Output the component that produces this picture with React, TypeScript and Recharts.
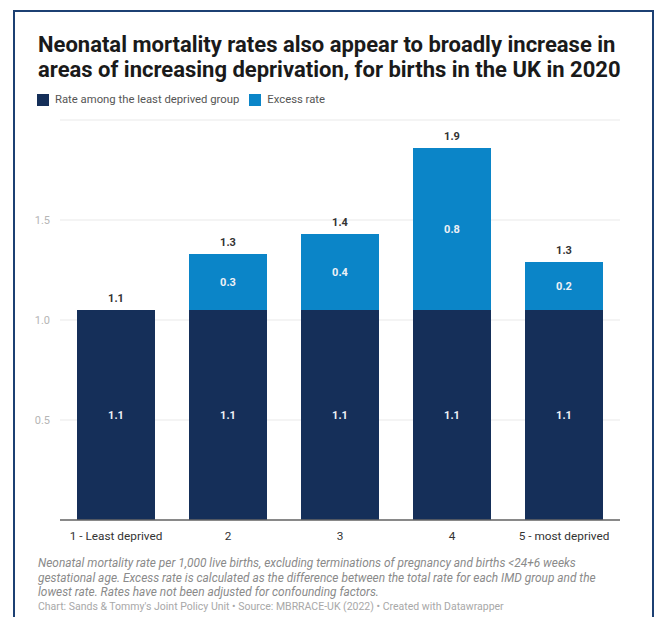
import { Bar, BarChart, CartesianGrid, LabelList, XAxis, YAxis } from 'recharts'

const groups = ['1 - Least deprived', '2', '3', '4', '5 - most deprived']
const baseRate = [1.05, 1.05, 1.05, 1.05, 1.05]
const excessRate = [0, 0.28, 0.38, 0.81, 0.24]
const yTicks = [0.5, 1.0, 1.5]

const NAVY = '#152f59'
const BLUE = '#0b85c8'
const FONT = 'Roboto, "Noto Sans", Arial, sans-serif'

const data = groups.map((group, i) => ({
  group,
  base: baseRate[i],
  excess: excessRate[i],
  total: baseRate[i] + excessRate[i],
}))

const fmt = (v: number) => v.toFixed(1)

// white value label centred inside a segment, skipped for empty segments
function InnerLabel(props: any) {
  const { x, y, width, height, value } = props
  if (!value) return null
  return (
    <text
      x={x + width / 2}
      y={y + height / 2}
      dy={4}
      textAnchor="middle"
      fill="#eef1f6"
      fontSize={11}
      fontWeight={700}
      fontFamily={FONT}
    >
      {fmt(value)}
    </text>
  )
}

function totalText(x: number, y: number, width: number, value: number) {
  return (
    <text
      x={x + width / 2}
      y={y - 8}
      textAnchor="middle"
      fill="#333"
      fontSize={11}
      fontWeight={700}
      fontFamily={FONT}
    >
      {fmt(value)}
    </text>
  )
}

// total above the stack; the excess segment carries it unless it is empty
function TotalOnExcess(props: any) {
  const { x, y, width, height, value } = props
  if (!height) return null
  return totalText(x, y, width, value)
}

function TotalOnBase(props: any) {
  const { x, y, width, value, index } = props
  if (excessRate[index]) return null
  return totalText(x, y, width, value)
}

function LegendItem({ color, label }: { color: string; label: string }) {
  return (
    <span style={{ display: 'inline-flex', alignItems: 'center', marginRight: 10 }}>
      <span style={{ width: 12, height: 12, background: color, marginRight: 6 }} />
      {label}
    </span>
  )
}

export default function App() {
  return (
    <div
      style={{
        position: 'absolute',
        left: 0,
        top: 0,
        width: 655,
        height: 617,
        overflow: 'hidden',
        background: '#fff',
        fontFamily: FONT,
      }}
    >
      <div
        style={{
          position: 'absolute',
          left: 13,
          top: 10,
          width: 637,
          height: 620,
          border: '2px solid #1c4073',
        }}
      />
      <div
        style={{
          position: 'absolute',
          left: 38,
          top: 33,
          fontSize: 22,
          fontWeight: 700,
          lineHeight: '24.5px',
          color: '#1a1a1a',
          whiteSpace: 'nowrap',
        }}
      >
        Neonatal mortality rates also appear to broadly increase in
        <br />
        areas of increasing deprivation, for births in the UK in 2020
      </div>
      <div
        style={{
          position: 'absolute',
          left: 37,
          top: 93,
          fontSize: 11.3,
          color: '#555',
          display: 'flex',
        }}
      >
        <LegendItem color={NAVY} label="Rate among the least deprived group" />
        <LegendItem color={BLUE} label="Excess rate" />
      </div>

      <div style={{ position: 'absolute', left: 0, top: 100 }}>
        <BarChart
          width={655}
          height={450}
          data={data}
          margin={{ top: 20, right: 35, left: 20, bottom: 0 }}
        >
          <CartesianGrid vertical={false} stroke="#e9e9e9" />
          <XAxis
            dataKey="group"
            axisLine={{ stroke: '#666', strokeWidth: 1.5 }}
            tickLine={false}
            height={30}
            tickMargin={6}
            tick={{ fill: '#333', fontSize: 11.8, fontFamily: FONT }}
          />
          <YAxis
            width={40}
            domain={[0, 2]}
            ticks={yTicks}
            tickFormatter={fmt}
            axisLine={false}
            tickLine={false}
            tickMargin={4}
            tick={{ fill: '#b5b5b5', fontSize: 11, fontFamily: FONT }}
          />
          <Bar dataKey="base" stackId="rate" fill={NAVY} barSize={78} isAnimationActive={false}>
            <LabelList dataKey="base" content={InnerLabel} />
            <LabelList dataKey="total" content={TotalOnBase} />
          </Bar>
          <Bar dataKey="excess" stackId="rate" fill={BLUE} barSize={78} isAnimationActive={false}>
            <LabelList dataKey="excess" content={InnerLabel} />
            <LabelList dataKey="total" content={TotalOnExcess} />
          </Bar>
        </BarChart>
      </div>

      <div
        style={{
          position: 'absolute',
          left: 38,
          top: 556,
          fontSize: 11.9,
          lineHeight: '14.5px',
          fontStyle: 'italic',
          color: '#8a8a8a',
          whiteSpace: 'nowrap',
        }}
      >
        Neonatal mortality rate per 1,000 live births, excluding terminations of pregnancy and births &lt;24+6 weeks
        <br />
        gestational age. Excess rate is calculated as the difference between the total rate for each IMD group and the
        <br />
        lowest rate. Rates have not been adjusted for confounding factors.
      </div>
      <div
        style={{
          position: 'absolute',
          left: 38,
          top: 600,
          fontSize: 10.5,
          color: '#a8a8a8',
        }}
      >
        Chart: Sands &amp; Tommy's Joint Policy Unit • Source: MBRRACE-UK (2022) • Created with Datawrapper
      </div>
    </div>
  )
}
